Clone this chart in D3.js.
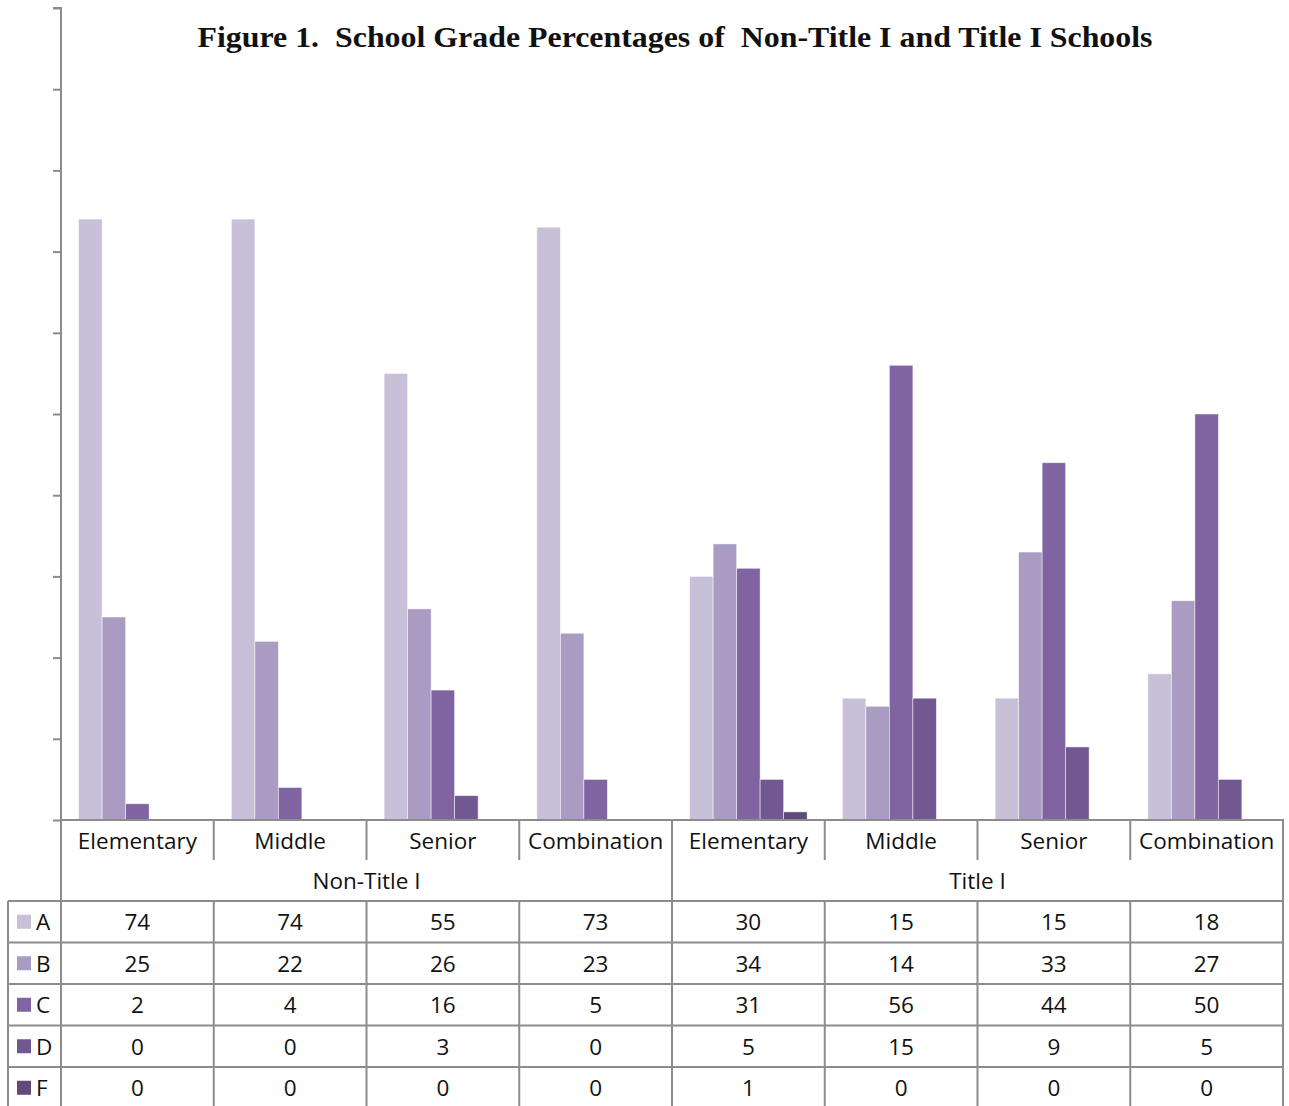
<!DOCTYPE html>
<html>
<head>
<meta charset="utf-8">
<script src="https://cdn.jsdelivr.net/npm/d3@7"></script>
<style>
  html, body { margin: 0; padding: 0; background: #fff; }
  svg { display: block; }
</style>
</head>
<body>
<script>
// ---- data ----
const categories = ["Elementary", "Middle", "Senior", "Combination", "Elementary", "Middle", "Senior", "Combination"];
const groups = ["Non-Title I", "Title I"];
const grades = ["A", "B", "C", "D", "F"];
const gradeA = [74, 74, 55, 73, 30, 15, 15, 18];
const gradeB = [25, 22, 26, 23, 34, 14, 33, 27];
const gradeC = [2, 4, 16, 5, 31, 56, 44, 50];
const gradeD = [0, 0, 3, 0, 5, 15, 9, 5];
const gradeF = [0, 0, 0, 0, 1, 0, 0, 0];
const yTicks = [0, 10, 20, 30, 40, 50, 60, 70, 80, 90, 100];
const title = "Figure 1.\u00a0 School Grade Percentages of\u00a0 Non-Title I and Title I Schools";

const seriesValues = [gradeA, gradeB, gradeC, gradeD, gradeF];
const colors = ["#c8c0d8", "#a99bc2", "#8064a2", "#725891", "#5f4a7a"];

// ---- layout ----
const W = 1289, H = 1106;
const plotLeft = 61, plotRight = 1283, plotTop = 8, plotBottom = 820;
const labelRowBottom = 860, groupRowBottom = 901, rowH = 41.5;
const legendLeft = 8;
const lineColor = "#8c8c8c";
const textFont = "'Open Sans', 'Noto Sans', sans-serif";
const fs = 22.5;

const svg = d3.select("body").append("svg").attr("width", W).attr("height", H);

const keys = categories.map((c, i) => i);
const x0 = d3.scaleBand().domain(keys).range([plotLeft, plotRight]).padding(0);
const x1 = d3.scaleBand().domain(grades).range([0, x0.bandwidth()]).paddingInner(0).paddingOuter(0.75);
const y = d3.scaleLinear().domain([0, 100]).range([plotBottom, plotTop]);

// title
svg.append("text")
  .attr("x", 675).attr("y", 47)
  .attr("text-anchor", "middle")
  .attr("font-family", "'Liberation Serif', 'DejaVu Serif', serif")
  .attr("font-weight", "bold")
  .attr("font-size", 29)
  .attr("textLength", 955)
  .attr("lengthAdjust", "spacingAndGlyphs")
  .attr("fill", "#111")
  .text(title);

// bars
const barData = [];
grades.forEach((g, gi) => {
  keys.forEach(k => barData.push({ grade: g, gi, k, v: seriesValues[gi][k] }));
});
svg.append("g").selectAll("rect").data(barData.filter(d => d.v > 0)).join("rect")
  .attr("x", d => x0(d.k) + x1(d.grade))
  .attr("width", x1.bandwidth())
  .attr("y", d => y(d.v))
  .attr("height", d => y(0) - y(d.v))
  .attr("fill", d => colors[d.gi])
  .attr("stroke", "#ffffff")
  .attr("stroke-opacity", 0.6)
  .attr("stroke-width", 0.8);

// y axis
const yAxis = d3.axisLeft(y).tickValues(yTicks).tickSize(8).tickFormat("");
const yg = svg.append("g").attr("transform", `translate(${plotLeft},0)`).call(yAxis);
yg.select(".domain").attr("stroke", lineColor).attr("stroke-width", 2).attr("d", `M-8,${plotTop}H0V${H}`);
yg.selectAll(".tick line").attr("stroke", lineColor).attr("stroke-width", 2);

// table grid
const grid = svg.append("g").attr("stroke", lineColor).attr("stroke-width", 2).attr("fill", "none");
const hline = (yy, xa, xb) => grid.append("line").attr("x1", xa).attr("x2", xb).attr("y1", yy).attr("y2", yy);
const vline = (xx, ya, yb) => grid.append("line").attr("x1", xx).attr("x2", xx).attr("y1", ya).attr("y2", yb);

hline(plotBottom, plotLeft, plotRight + 1);
for (let r = 0; r < grades.length; r++) hline(groupRowBottom + r * rowH, legendLeft, plotRight + 1);
vline(legendLeft, groupRowBottom, H);
keys.forEach(k => {
  if (k === 0) return;
  const xx = x0(k);
  if (k === 4) { vline(xx, plotBottom, H); }
  else { vline(xx, plotBottom, labelRowBottom); vline(xx, groupRowBottom, H); }
});
vline(plotRight, plotBottom, H);

// category labels
svg.append("g").selectAll("text").data(keys).join("text")
  .attr("x", k => x0(k) + x0.bandwidth() / 2)
  .attr("y", (plotBottom + labelRowBottom) / 2 + 8.5)
  .attr("text-anchor", "middle")
  .attr("font-family", textFont).attr("font-size", fs).attr("fill", "#111")
  .text(k => categories[k]);

// group labels
const gx = d3.scaleBand().domain(groups).range([plotLeft, plotRight]);
svg.append("g").selectAll("text").data(groups).join("text")
  .attr("x", g => gx(g) + gx.bandwidth() / 2)
  .attr("y", (labelRowBottom + groupRowBottom) / 2 + 8.5)
  .attr("text-anchor", "middle")
  .attr("font-family", textFont).attr("font-size", fs).attr("fill", "#111")
  .text(g => g);

// data rows
grades.forEach((g, gi) => {
  const cy = groupRowBottom + gi * rowH + rowH / 2;
  const row = svg.append("g");
  row.append("rect").attr("x", 17).attr("y", cy - 7).attr("width", 14).attr("height", 14).attr("fill", colors[gi]);
  row.append("text").attr("x", 36).attr("y", cy + 8.5)
    .attr("font-family", textFont).attr("font-size", fs).attr("fill", "#111").text(g);
  row.selectAll("text.v").data(keys).join("text").attr("class", "v")
    .attr("x", k => x0(k) + x0.bandwidth() / 2)
    .attr("y", cy + 8.5)
    .attr("text-anchor", "middle")
    .attr("font-family", textFont).attr("font-size", fs).attr("fill", "#111")
    .text(k => seriesValues[gi][k]);
});
</script>
</body>
</html>
